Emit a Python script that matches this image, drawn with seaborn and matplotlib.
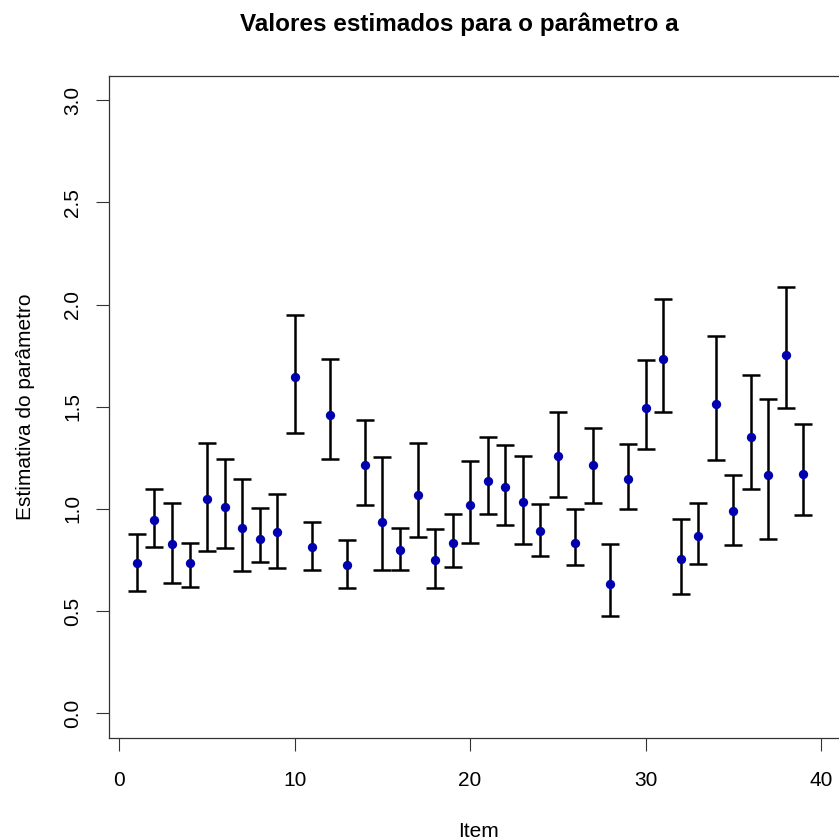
import numpy as np
import pandas as pd
import matplotlib
matplotlib.use('Agg')
import matplotlib.pyplot as plt
import seaborn as sns

sns.set_style('white')
plt.rcParams['font.family'] = ['Liberation Sans', 'DejaVu Sans']
plt.rcParams['text.color'] = 'black'
plt.rcParams['xtick.color'] = 'black'
plt.rcParams['ytick.color'] = 'black'

# estimativas do parametro a por item, com limites inferior e superior
item = list(range(1, 40))
estimativa = [0.735, 0.945, 0.827, 0.735, 1.049, 1.010, 0.905, 0.853, 0.886, 1.644,
              0.814, 1.461, 0.723, 1.213, 0.938, 0.801, 1.069, 0.749, 0.833, 1.017,
              1.134, 1.108, 1.036, 0.892, 1.258, 0.833, 1.213, 0.631, 1.147, 1.494,
              1.735, 0.755, 0.866, 1.513, 0.990, 1.350, 1.167, 1.755, 1.173]
inferior = [0.598, 0.814, 0.637, 0.618, 0.794, 0.807, 0.696, 0.742, 0.709, 1.370,
            0.703, 1.245, 0.611, 1.017, 0.703, 0.703, 0.860, 0.611, 0.716, 0.833,
            0.977, 0.919, 0.827, 0.768, 1.056, 0.723, 1.029, 0.474, 0.997, 1.291,
            1.474, 0.585, 0.729, 1.239, 0.821, 1.095, 0.853, 1.494, 0.971]
superior = [0.879, 1.095, 1.029, 0.833, 1.324, 1.245, 1.147, 1.003, 1.075, 1.951,
            0.938, 1.735, 0.847, 1.435, 1.252, 0.905, 1.324, 0.899, 0.977, 1.232,
            1.350, 1.311, 1.258, 1.023, 1.474, 0.997, 1.396, 0.827, 1.317, 1.729,
            2.029, 0.951, 1.029, 1.847, 1.167, 1.657, 1.539, 2.085, 1.415]

df = pd.DataFrame({'Item': item, 'Estimativa': estimativa,
                   'Inferior': inferior, 'Superior': superior})

W, H = 839, 840
fig = plt.figure(figsize=(W / 100, H / 100), dpi=100)
ax = fig.add_axes([109 / W, (H - 737.7) / H, (850 - 109) / W, (737.7 - 75.7) / H])

ax.errorbar(df['Item'], df['Estimativa'],
            yerr=[df['Estimativa'] - df['Inferior'], df['Superior'] - df['Estimativa']],
            fmt='none', ecolor='black', elinewidth=1.8, capsize=6.8, capthick=1.8, zorder=2)
sns.scatterplot(data=df, x='Item', y='Estimativa', ax=ax, color='#0000B0',
                s=45, edgecolor='#0000B0', linewidth=0, zorder=3)

ax.set_xlim(-0.59, 41.66)
ax.set_ylim(-0.12, 3.12)
ax.set_xticks([0, 10, 20, 30, 40])
ax.set_yticks([0, 0.5, 1.0, 1.5, 2.0, 2.5, 3.0])
ax.set_yticklabels(['0.0', '0.5', '1.0', '1.5', '2.0', '2.5', '3.0'])
ax.tick_params(axis='x', length=9, width=0.8, color='#333333', labelsize=15, pad=15,
               bottom=True, labelcolor='black')
ax.tick_params(axis='y', length=9.4, width=0.8, color='#333333', labelsize=15, pad=10,
               left=True, labelrotation=90, labelcolor='black')
for lab in ax.get_yticklabels():
    lab.set_va('center')
ax.set_xlabel('')
ax.set_ylabel('')
for s in ax.spines.values():
    s.set_color('#333333')
    s.set_linewidth(0.9)

fig.text(459 / W, 1 - 31 / H, 'Valores estimados para o parâmetro a', ha='center',
         va='baseline', fontsize=17.5, fontweight='bold', color='black')
fig.text(478 / W, 1 - 837 / H, 'Item', ha='center', va='baseline', fontsize=15, color='black')
fig.text(26 / W, 1 - 407 / H, 'Estimativa do parâmetro', ha='center', va='center',
         rotation=90, fontsize=15, color='black')

fig.savefig('out.png', dpi=100)
